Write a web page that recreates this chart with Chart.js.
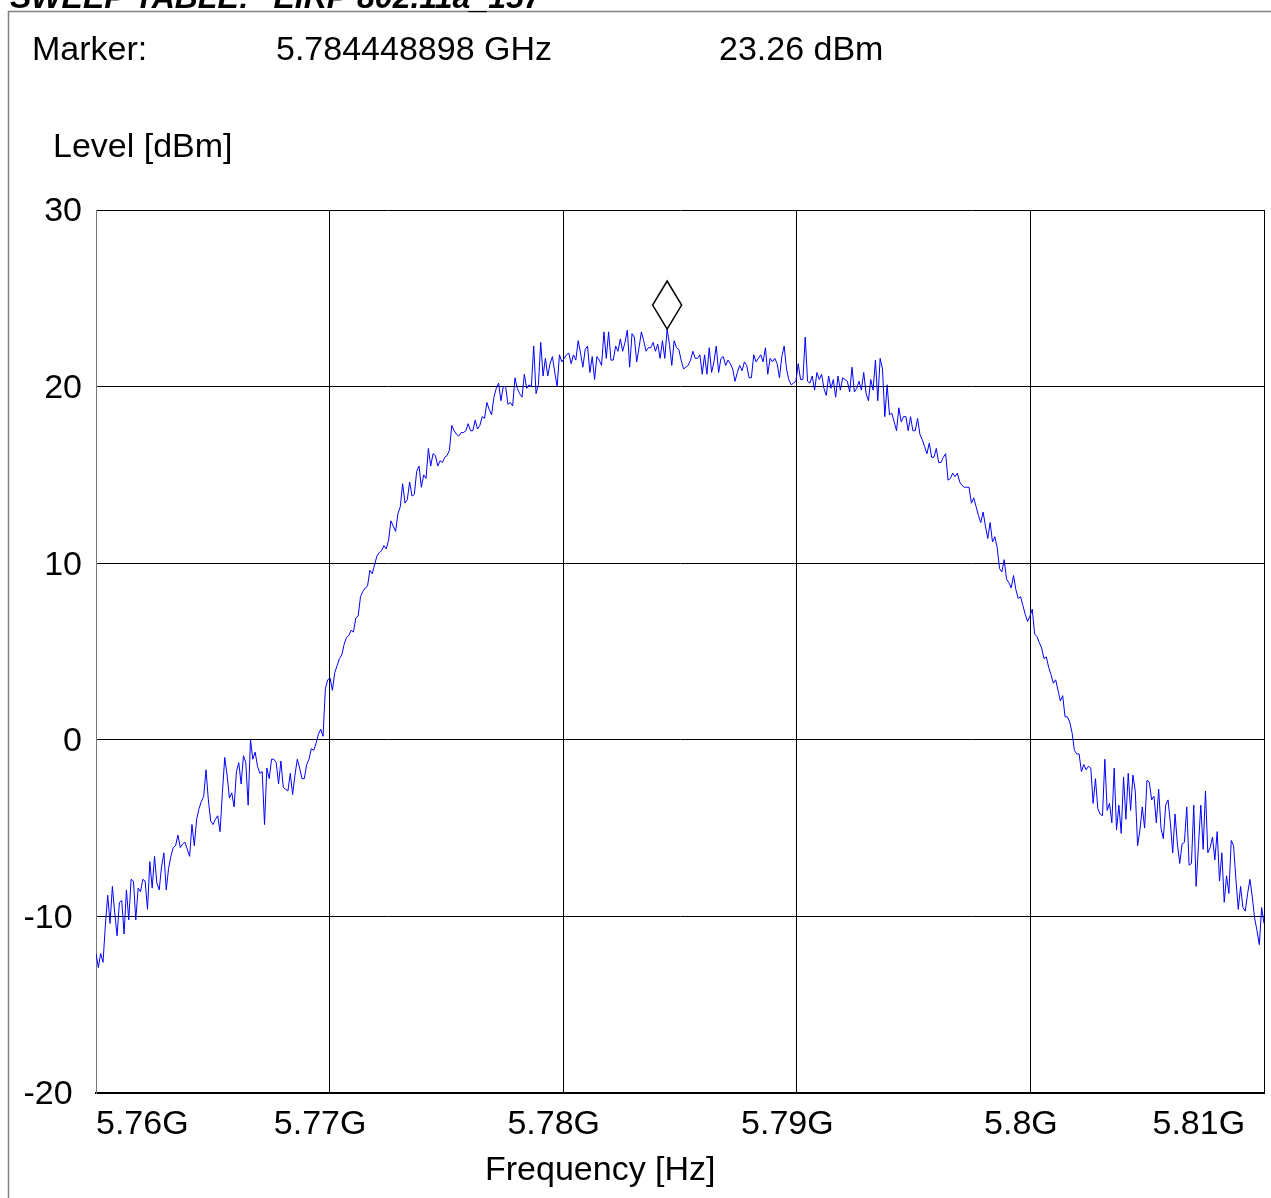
<!DOCTYPE html>
<html><head><meta charset="utf-8">
<script src="https://cdn.jsdelivr.net/npm/chart.js@4.4.1/dist/chart.umd.min.js"></script>
<style>html,body{margin:0;padding:0;background:#fff;overflow:hidden}canvas{display:block}</style>
</head><body>
<canvas id="c" width="1271" height="1198"></canvas>
<script>
// ---- text ----
const chartTitle = 'SWEEP TABLE: "EIRP 802.11a_157"';
const markerLabels = ['Marker:', '5.784448898 GHz', '23.26 dBm'];
const yAxisTitle = 'Level [dBm]';
const xAxisTitle = 'Frequency [Hz]';
// ---- axes ----
const sweepStartHz = 5.76e9;
const sweepStopHz = 5.81e9;
const xTickValues = [5.76e9, 5.77e9, 5.78e9, 5.79e9, 5.80e9, 5.81e9];
const xTickLabels = ['5.76G', '5.77G', '5.78G', '5.79G', '5.8G', '5.81G'];
const yTickValues = [-20, -10, 0, 10, 20, 30];
const yTickLabels = ['-20 ', '-10 ', '0', '10', '20', '30'];
const markerIndex = 244;
// ---- measured level [dBm], 500 sweep points, read in five stretches ----
const levelA = [
-12.1,-12.9,-12.1,-12.6,-10.5,-8.8,-10.4,-8.3,-9.8,-11.1,
-9.2,-9.1,-11.0,-8.5,-10.2,-7.9,-8.0,-10.2,-8.4,-8.6,
-7.9,-8.0,-9.6,-6.9,-8.4,-6.6,-8.1,-8.5,-7.2,-6.4,
-8.5,-7.3,-6.6,-6.1,-6.0,-5.4,-6.1,-5.9,-5.8,-6.2,
-6.6,-4.8,-6.0,-4.5,-3.9,-3.5,-3.2,-1.7,-3.4,-4.6,
-4.8,-4.5,-4.3,-5.2,-3.0,-1.0,-2.0,-3.3,-3.0,-3.8,
-1.8,-1.3,-2.5,-0.9,-1.3,-3.7,0.0,-1.1,-0.7,-1.5,
-1.9,-1.8,-4.8,-1.6,-2.2,-1.1,-1.1,-1.3,-2.5,-1.2,
-2.7,-2.8,-2.9,-1.9,-3.1,-2.0,-1.1,-1.6,-2.2,-2.2,
-1.4,-1.1,-0.5,-0.6,-0.2,0.3,0.6,0.2];
const levelB = [
2.9,3.4,3.5,2.8,3.8,4.2,4.6,4.8,5.4,5.8,
5.9,6.2,6.1,6.9,7.0,8.1,8.4,8.6,8.7,9.6,
9.4,9.9,10.4,10.6,10.7,11.0,10.8,11.3,12.4,12.1,
11.8,12.8,13.2,14.5,13.4,13.6,14.6,13.8,13.9,15.2,
15.5,14.3,15.0,14.8,16.5,15.5,16.2,16.1,15.5,15.8,
15.7,16.0,16.1,16.4,17.8,17.5,17.3,17.2,17.4,17.4,
17.5,17.9,17.5,17.5,18.1,17.6,17.8,18.3,18.2,19.1,
18.7,18.4,19.4,19.9,20.2,19.2,20.0,20.0,19.0,19.1,
18.9,20.5,19.9,19.6,19.4,20.7,19.9,20.1,20.0,22.3,
19.6,20.1,22.5,20.6,21.6,20.6,21.3,21.7,20.8,20.0,
21.8,21.4,21.6,21.8,21.9];
const levelC = [
21.3,21.8,21.5,22.6,21.9,21.1,22.1,22.3,20.8,21.7,
20.4,21.7,21.5,21.2,23.1,21.6,23.1,21.5,21.5,22.3,
22.0,22.7,22.0,22.5,23.2,21.1,23.0,22.8,21.4,22.2,
23.1,22.6,22.0,22.2,22.2,22.5,22.0,22.4,21.6,22.6,
21.6,23.26,22.4,21.2,22.6,22.2,22.1,21.5,21.0,21.1,
21.2,21.5,22.0,21.6,21.6,21.8,20.7,21.8,20.7,22.2,
20.8,21.4,22.3,20.8,21.6,21.7,21.2,21.5,21.3,21.0,
20.3,20.8,21.2,20.9,21.4,21.2,20.5,20.5,21.8,21.4,
21.6,21.8,21.4,22.2,20.7,21.6,21.4,21.6,21.3,20.5,
21.7,22.3,21.0,20.4,20.1,20.2,20.3,21.3,20.4,20.4,
22.8,20.3,20.2,20.6,19.8,20.8,20.4,20.7,19.9,19.5,
20.6,19.9,20.4,19.4,20.6,19.8,20.5,20.4,20.3,19.7,
21.1,19.7,19.9,20.3,19.8,20.8,19.6,19.2,20.4,19.8,
21.5,19.2];
const levelD = [
21.6,21.0,18.3,20.1,18.4,18.5,18.0,17.5,18.8,18.0,
18.3,18.3,17.5,18.3,17.5,17.5,18.2,17.3,17.0,16.6,
16.2,16.8,16.0,16.0,16.5,15.7,15.7,16.0,16.2,14.7,
14.8,15.1,14.9,15.1,14.6,14.4,14.3,14.3,14.3,13.4,
13.7,13.2,12.7,12.3,12.9,12.1,11.4,12.3,11.2,11.5,
10.9,9.7,9.5,10.2,9.1,8.9,8.6,9.3,8.5,8.0,
8.1,7.6,7.1,6.7,7.0,7.4,6.0,5.85,5.5,5.2,
4.6,4.7,4.1,3.7,3.2,3.4,2.8,2.2,2.5,1.3,
1.3,1.0];
const levelE = [
0.4,-0.6,-0.8,-0.8,-1.8,-1.4,-1.7,-1.5,-1.6,-3.6,
-2.2,-3.9,-4.2,-4.3,-1.1,-4.0,-3.6,-4.7,-1.6,-5.1,
-3.7,-5.3,-2.1,-4.5,-1.9,-4.0,-2.0,-2.9,-6.0,-5.1,
-3.8,-5.0,-2.3,-2.4,-3.4,-3.2,-4.7,-2.8,-5.0,-5.6,
-3.7,-3.4,-4.7,-6.4,-4.2,-5.9,-7.0,-5.9,-5.8,-3.8,
-7.1,-7.0,-3.7,-8.3,-6.0,-3.7,-6.2,-2.9,-6.4,-6.1,
-5.5,-6.8,-5.2,-8.0,-6.4,-9.2,-7.7,-8.7,-5.7,-6.0,
-7.9,-9.6,-8.3,-9.5,-9.7,-8.7,-7.9,-8.9,-10.1,-10.8,
-11.6,-9.5,-10.4];

const level = [].concat(levelA, levelB, levelC, levelD, levelE);
const nPts = level.length;
const sweepStep = (sweepStopHz - sweepStartHz) / (nPts - 1);
const points = level.map((v, i) => ({ x: sweepStartHz + i * sweepStep, y: v }));

const FONT = '"Liberation Sans", Arial, Helvetica, sans-serif';
const FS = 34;

const decor = {
  id: 'decor',
  beforeDraw(chart) {
    const c = chart.ctx;
    c.save();
    c.strokeStyle = '#808080';
    c.lineWidth = 1.5;
    c.beginPath();
    c.moveTo(8.5, 1198); c.lineTo(8.5, 11.5); c.lineTo(1271, 11.5);
    c.stroke();
    c.fillStyle = '#000';
    c.font = 'italic bold 32px ' + FONT;
    c.textAlign = 'left'; c.textBaseline = 'alphabetic';
    c.fillText(chartTitle, 10, 8);
    c.restore();
  },
  afterDraw(chart) {
    const c = chart.ctx;
    const xs = chart.scales.x, ys = chart.scales.y;
    c.save();
    c.fillStyle = '#000';
    c.font = FS + 'px ' + FONT;
    c.textAlign = 'left'; c.textBaseline = 'alphabetic';
    c.fillText(markerLabels[0], 32, 60);
    c.fillText(markerLabels[1], 276, 60);
    c.fillText(markerLabels[2], 719, 60);
    c.fillText(yAxisTitle, 53, 157);
    c.fillText(xAxisTitle, 485, 1180);
    // marker diamond
    const px = xs.getPixelForValue(points[markerIndex].x);
    const py = ys.getPixelForValue(points[markerIndex].y);
    c.strokeStyle = '#000'; c.lineWidth = 1.5;
    c.beginPath();
    c.moveTo(px, py); c.lineTo(px + 14.5, py - 24); c.lineTo(px, py - 48); c.lineTo(px - 14.5, py - 24);
    c.closePath(); c.stroke();
    c.restore();
  }
};

new Chart(document.getElementById('c').getContext('2d'), {
  type: 'line',
  data: { datasets: [{ data: points, borderColor: '#0000ff', borderWidth: 1, pointRadius: 0, tension: 0, fill: false }] },
  options: {
    responsive: false, animation: false, events: [],
    layout: { padding: { left: 10, top: 210, right: 7, bottom: 0 } },
    plugins: { legend: { display: false }, tooltip: { enabled: false }, title: { display: false } },
    scales: {
      x: {
        type: 'linear', min: sweepStartHz, max: sweepStopHz,
        afterBuildTicks: s => { s.ticks = xTickValues.map(v => ({ value: v })); },
        afterFit: s => { s.height = 105; s.paddingLeft = 0; s.paddingRight = 0; },
        grid: { color: '#000', lineWidth: 1, drawTicks: false },
        border: { color: '#000', width: 2 },
        ticks: { align: 'inner', padding: 11, maxRotation: 0, autoSkip: false, color: '#000',
                 font: { family: FONT, size: FS },
                 callback: (v, i) => xTickLabels[i] + '  ' }
      },
      y: {
        type: 'linear', min: -20, max: 30,
        afterBuildTicks: s => { s.ticks = yTickValues.map(v => ({ value: v })); },
        afterFit: s => { s.width = 86; s.paddingTop = 0; s.paddingBottom = 0; },
        grid: { color: '#000', lineWidth: 1, drawTicks: false },
        border: { color: '#777', width: 1 },
        ticks: { padding: 14, labelOffset: 2, color: '#000', font: { family: FONT, size: FS },
                 callback: (v, i) => yTickLabels[i] }
      }
    }
  },
  plugins: [decor]
});
</script>
</body></html>
